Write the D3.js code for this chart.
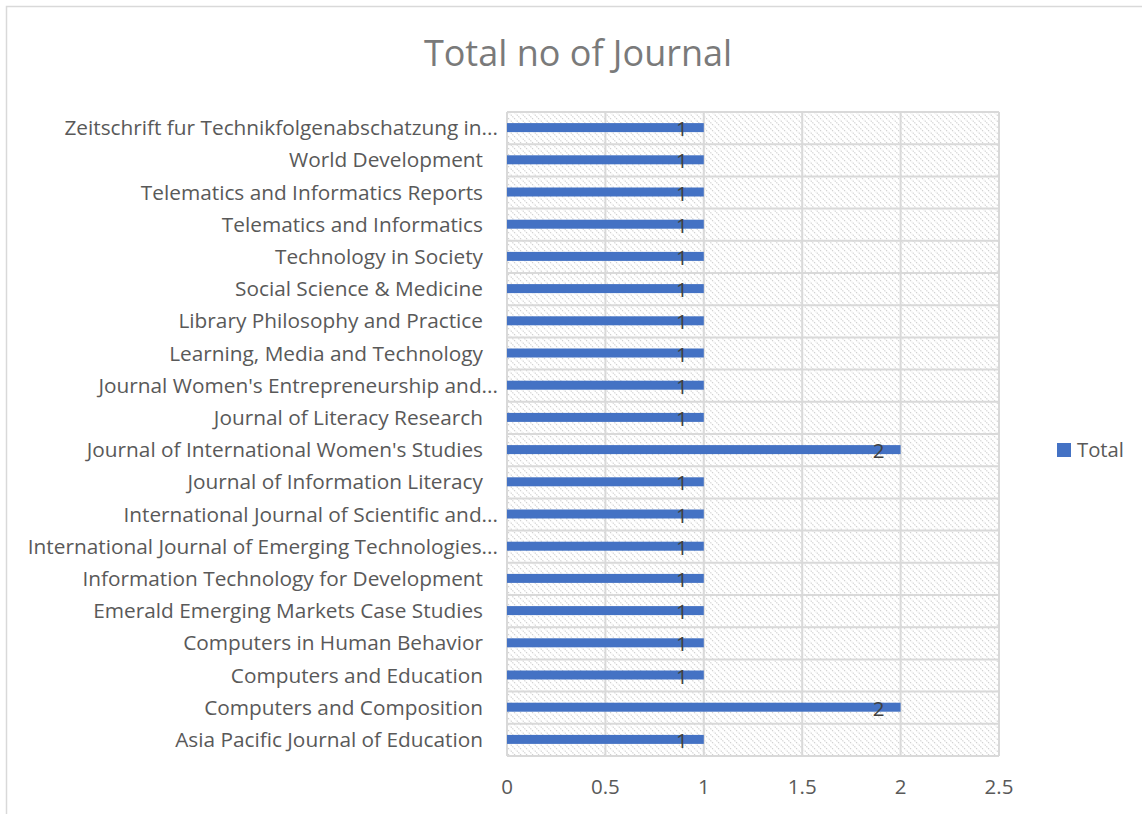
<!DOCTYPE html>
<html>
<head>
<meta charset="utf-8">
<script src="https://cdn.jsdelivr.net/npm/d3@7"></script>
<style>
  html, body { margin: 0; padding: 0; background: #fff; }
  svg { display: block; }
  text { font-family: "Open Sans", "Noto Sans", sans-serif; }
</style>
</head>
<body>
<svg id="chart" width="1142" height="814"></svg>
<script>
// Data (Excel order: first category drawn at bottom)
const categories = [
  "Asia Pacific Journal of Education",
  "Computers and Composition",
  "Computers and Education",
  "Computers in Human Behavior",
  "Emerald Emerging Markets Case Studies",
  "Information Technology for Development",
  "International Journal of Emerging Technologies...",
  "International Journal of Scientific and...",
  "Journal of Information Literacy",
  "Journal of International Women's Studies",
  "Journal of Literacy Research",
  "Journal Women's Entrepreneurship and...",
  "Learning, Media and Technology",
  "Library Philosophy and Practice",
  "Social Science & Medicine",
  "Technology in Society",
  "Telematics and Informatics",
  "Telematics and Informatics Reports",
  "World Development",
  "Zeitschrift fur Technikfolgenabschatzung in..."
];
const totals = [1, 2, 1, 1, 1, 1, 1, 1, 1, 2, 1, 1, 1, 1, 1, 1, 1, 1, 1, 1];
const xTicks = [0, 0.5, 1, 1.5, 2, 2.5];
const seriesName = "Total";
const title = "Total no of Journal";

const svg = d3.select("#chart");
const W = 1142, H = 814;
const plot = { left: 507, right: 999, top: 112, bottom: 756 };

// border of chart area
svg.append("path")
  .attr("d", `M6.5,${H + 10} V6.5 H${W + 10}`)
  .attr("fill", "none").attr("stroke", "#d9d9d9").attr("stroke-width", 1.5);

// hatch pattern
const defs = svg.append("defs");
const pat = defs.append("pattern")
  .attr("id", "hatch").attr("patternUnits", "userSpaceOnUse")
  .attr("width", 6).attr("height", 6);
pat.append("rect").attr("width", 6).attr("height", 6).attr("fill", "#fff");
pat.append("path").attr("d", "M-1,-1 L7,7 M-1,5 L1,7 M5,-1 L7,1")
  .attr("stroke", "#d0d0d0").attr("stroke-width", 1.1).attr("stroke-dasharray", "1.4,1");

const x = d3.scaleLinear().domain([0, 2.5]).range([plot.left, plot.right]);
const y = d3.scaleBand().domain(categories.slice().reverse())
  .range([plot.top, plot.bottom]).paddingInner(0).paddingOuter(0);

svg.append("rect")
  .attr("x", plot.left).attr("y", plot.top)
  .attr("width", plot.right - plot.left).attr("height", plot.bottom - plot.top)
  .attr("fill", "url(#hatch)");

// grid lines
const grid = svg.append("g").attr("stroke", "#d9d9d9").attr("stroke-width", 2);
xTicks.forEach(t => {
  grid.append("line").attr("x1", x(t)).attr("x2", x(t))
    .attr("y1", plot.top).attr("y2", plot.bottom);
});
const bounds = categories.map(c => y(c)).concat([plot.bottom]);
bounds.forEach(b => {
  grid.append("line").attr("x1", plot.left).attr("x2", plot.right)
    .attr("y1", b).attr("y2", b);
});

// bars
const barH = 9;
svg.append("g").selectAll("rect").data(categories).join("rect")
  .attr("x", x(0))
  .attr("y", (d) => y(d) + y.bandwidth() / 2 - barH / 2 - 0.5)
  .attr("width", (d, i) => x(totals[i]) - x(0))
  .attr("height", barH)
  .attr("fill", "#4472C4");

// data labels
svg.append("g").selectAll("text").data(categories).join("text")
  .attr("x", (d, i) => x(totals[i]) - 16)
  .attr("y", (d) => y(d) + y.bandwidth() / 2 + 8)
  .attr("text-anchor", "end")
  .attr("font-size", 20.5)
  .attr("fill", "#404040")
  .text((d, i) => totals[i]);

// category labels
svg.append("g").selectAll("text").data(categories).join("text")
  .attr("x", d => d.endsWith("...") ? 498 : 483)
  .attr("y", d => y(d) + y.bandwidth() / 2 + 7)
  .attr("text-anchor", "end")
  .attr("font-size", 20.8)
  .attr("fill", "#595959")
  .text(d => d);

// x tick labels
svg.append("g").selectAll("text").data(xTicks).join("text")
  .attr("x", d => x(d))
  .attr("y", 794)
  .attr("text-anchor", "middle")
  .attr("font-size", 20.5)
  .attr("fill", "#595959")
  .text(d => d);

// title
svg.append("text")
  .attr("x", 578).attr("y", 66)
  .attr("text-anchor", "middle")
  .attr("font-size", 36)
  .attr("fill", "#7a7a7a")
  .text(title);

// legend
svg.append("rect").attr("x", 1057).attr("y", 443).attr("width", 14).attr("height", 14)
  .attr("fill", "#4472C4");
svg.append("text").attr("x", 1077).attr("y", 457)
  .attr("font-size", 20.3).attr("fill", "#595959").text(seriesName);
</script>
</body>
</html>
